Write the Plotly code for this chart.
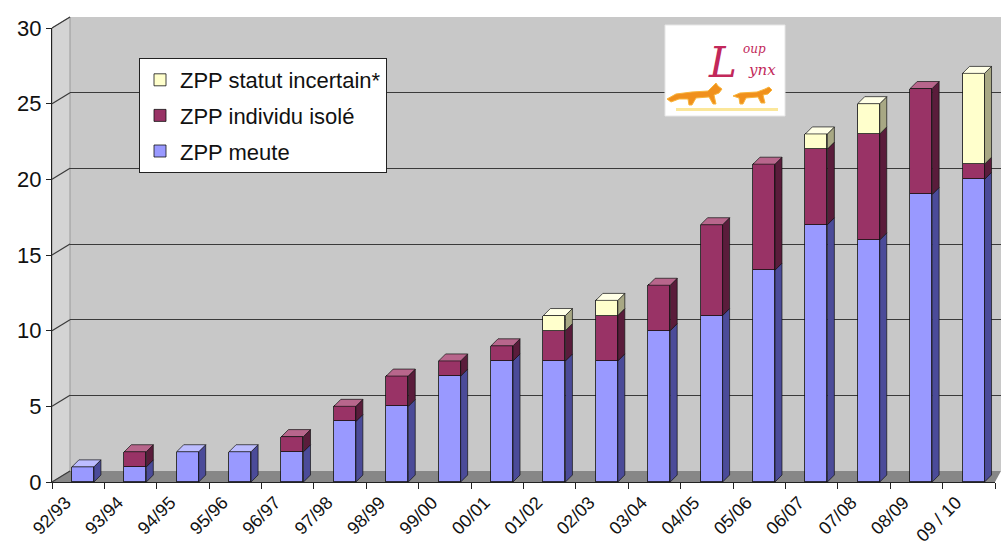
import plotly.graph_objects as go

# Seasons and number of lynx presence zones (ZPP) by status
seasons = ["92/93", "93/94", "94/95", "95/96", "96/97", "97/98", "98/99", "99/00", "00/01",
           "01/02", "02/03", "03/04", "04/05", "05/06", "06/07", "07/08", "08/09", "09 / 10"]
meute = [1, 1, 2, 2, 2, 4, 5, 7, 8, 8, 8, 10, 11, 14, 17, 16, 19, 20]
isole = [0, 1, 0, 0, 1, 1, 2, 1, 1, 2, 3, 3, 6, 7, 5, 7, 7, 1]
incertain = [0, 0, 0, 0, 0, 0, 0, 0, 0, 1, 1, 0, 0, 0, 1, 2, 0, 6]
y_ticks = [0, 5, 10, 15, 20, 25, 30]

series = [
    ("ZPP meute", meute, "#9999ff", "#4b4b99", "#bdbdff", 3),
    ("ZPP individu isolé", isole, "#993366", "#5a1c3b", "#b8668c", 2),
    ("ZPP statut incertain*", incertain, "#ffffcc", "#a8a884", "#ffffe6", 1),
]

# page geometry (pixels)
W, H = 1001, 546
ML, MR, MT, MB = 52, 0, 17, 64
PW, PH = W - ML - MR, H - MT - MB
BOTTOM = H - MB
FRONT_W = 943            # width of the front (category) axis
DEPTH_X, DEPTH_Y = 18, 11  # offset of the back wall
FRONT_TOP = 454          # height of the value axis, 0 -> 30

def fx(p):
    return (p - ML) / PW

def fy(p):
    return (BOTTOM - p) / PH

n = len(seasons)
xs = list(range(n))
BAR_OFF, BAR_W = -0.12, 0.42
px_per_cat = FRONT_W / n
px_per_unit = FRONT_TOP / 30
dx = 7 / px_per_cat
dy = 7 / px_per_unit

fig = go.Figure()

# back wall grid holder (subplot x/y)
fig.add_trace(go.Scatter(x=[], y=[], showlegend=False, hoverinfo="skip"))

for name, vals, c, _, _, rank in series:
    fig.add_trace(go.Bar(
        x=xs, y=vals, name=name, offset=BAR_OFF, width=BAR_W,
        marker=dict(color=c, line=dict(color="#111111", width=0.8)),
        xaxis="x2", yaxis="y2", legendgroup=name, legendrank=rank, hoverinfo="skip",
    ))

# side and top faces giving the bars their depth
cum = [0] * n
top_series = [None] * n
side_paths = {s[0]: ([], []) for s in series}
for name, vals, *_ in series:
    for i in range(n):
        v = vals[i]
        if v <= 0:
            continue
        b, t = cum[i], cum[i] + v
        xr = i + BAR_OFF + BAR_W
        sx, sy = side_paths[name]
        sx += [xr, xr + dx, xr + dx, xr, xr, None]
        sy += [b, b + dy, t + dy, t, b, None]
        cum[i] = t
        top_series[i] = name
for name, vals, c, side_c, top_c, _ in series:
    sx, sy = side_paths[name]
    fig.add_trace(go.Scatter(
        x=sx, y=sy, mode="lines", fill="toself", fillcolor=side_c,
        line=dict(color="#111111", width=0.7), xaxis="x2", yaxis="y2",
        showlegend=False, hoverinfo="skip"))
    tx, ty = [], []
    for i in range(n):
        if top_series[i] != name:
            continue
        xl = i + BAR_OFF
        xr = xl + BAR_W
        T = cum[i]
        tx += [xl, xl + dx, xr + dx, xr, xl, None]
        ty += [T, T + dy, T + dy, T, T, None]
    if tx:
        fig.add_trace(go.Scatter(
            x=tx, y=ty, mode="lines", fill="toself", fillcolor=top_c,
            line=dict(color="#111111", width=0.7), xaxis="x2", yaxis="y2",
            showlegend=False, hoverinfo="skip"))

shapes = []
wall_x0 = fx(ML + DEPTH_X)
wall_y0 = fy(BOTTOM - DEPTH_Y)
front_top = FRONT_TOP / PH
front_right = FRONT_W / PW
# back wall
shapes.append(dict(type="rect", xref="paper", yref="paper", x0=wall_x0, x1=1, y0=wall_y0, y1=1,
                   fillcolor="#c8c8c8", line=dict(width=0), layer="below"))
# left wall
shapes.append(dict(type="path", xref="paper", yref="paper",
                   path=f"M0,0 L0,{front_top} L{wall_x0},1 L{wall_x0},{wall_y0} Z",
                   fillcolor="#d4d4d4", line=dict(color="#9a9a9a", width=1), layer="below"))
# floor
shapes.append(dict(type="path", xref="paper", yref="paper",
                   path=f"M0,0 L{front_right},0 L1,{wall_y0} L{wall_x0},{wall_y0} Z",
                   fillcolor="#878787", line=dict(width=0), layer="below"))
# connectors from value ticks to the back wall grid
for v in y_ticks:
    y_front = v / 30 * front_top
    y_back = wall_y0 + v / 30 * (1 - wall_y0)
    shapes.append(dict(type="line", xref="paper", yref="paper", x0=0, x1=wall_x0,
                       y0=y_front, y1=y_back, line=dict(color="#3a3a3a", width=1.2)))

# logo box
lx0, lx1, ly0, ly1 = 665, 785, 25, 116
shapes.append(dict(type="rect", xref="paper", yref="paper", x0=fx(lx0), x1=fx(lx1), y0=fy(ly1), y1=fy(ly0),
                   fillcolor="white", line=dict(color="#e6e6e6", width=1)))

def poly(points):
    return "M" + " L".join(f"{fx(a):.5f},{fy(b):.5f}" for a, b in points) + " Z"

lynx1 = [(667, 99), (676, 94), (692, 92), (708, 91), (713, 86), (716, 83), (718, 86), (722, 89),
         (719, 93), (714, 95), (716, 104), (713, 104), (709, 97), (696, 98), (692, 105),
         (689, 105), (688, 99), (679, 99), (671, 102)]
lynx2 = [(733, 96), (740, 93), (757, 92), (765, 89), (769, 87), (772, 90), (768, 94), (763, 95),
         (765, 103), (761, 103), (758, 97), (746, 98), (743, 104), (740, 104), (739, 98)]
for pts in (lynx1, lynx2):
    shapes.append(dict(type="path", xref="paper", yref="paper", path=poly(pts),
                       fillcolor="#f0901c", line=dict(color="#f8b43a", width=1)))
shapes.append(dict(type="rect", xref="paper", yref="paper", x0=fx(676), x1=fx(778), y0=fy(111), y1=fy(108),
                   fillcolor="#fbe79a", line=dict(width=0)))

annotations = [
    dict(text="<i>L</i>", x=fx(722), y=fy(62), xref="paper", yref="paper", showarrow=False,
         xanchor="center", yanchor="middle",
         font=dict(family="DejaVu Serif", size=42, color="#c2285a")),
    dict(text="<i>oup</i>", x=fx(754), y=fy(49), xref="paper", yref="paper", showarrow=False,
         xanchor="center", yanchor="middle",
         font=dict(family="DejaVu Serif", size=12, color="#c2285a")),
    dict(text="<i>ynx</i>", x=fx(762), y=fy(70), xref="paper", yref="paper", showarrow=False,
         xanchor="center", yanchor="middle",
         font=dict(family="DejaVu Serif", size=15, color="#c2285a")),
]

font = "Liberation Sans, Arial, sans-serif"
fig.update_layout(
    width=W, height=H,
    margin=dict(l=ML, r=MR, t=MT, b=MB),
    paper_bgcolor="white", plot_bgcolor="rgba(0,0,0,0)",
    barmode="stack", bargap=0,
    font=dict(family=font, color="#111111"),
    shapes=shapes, annotations=annotations,
    xaxis=dict(domain=[wall_x0, 1], anchor="y", visible=False, range=[0, 1], fixedrange=True),
    yaxis=dict(domain=[wall_y0, 1], anchor="x", range=[0, 30], dtick=5, showgrid=True,
               gridcolor="#3a3a3a", gridwidth=1.2, showticklabels=False, zeroline=False,
               ticks="", showline=False),
    xaxis2=dict(domain=[0, front_right], anchor="y2", range=[-0.5, n - 0.5],
                tickvals=[i - 0.24 for i in xs], ticktext=seasons, tickangle=-45, ticks="",
                ticklabelstandoff=2, automargin=False,
                tickfont=dict(size=18, family=font, color="#111111"),
                showline=True, linecolor="#222222", linewidth=1, showgrid=False, zeroline=False,
                minor=dict(tick0=-0.5, dtick=1, ticks="outside", ticklen=6, tickcolor="#222222",
                           showgrid=False)),
    yaxis2=dict(domain=[0, front_top], anchor="x2", range=[0, 30], tickvals=y_ticks,
                ticks="outside", ticklen=5, tickcolor="#222222", showline=True, automargin=False,
                linecolor="#222222", linewidth=1, showgrid=False, zeroline=False,
                tickfont=dict(size=22, family=font, color="#111111")),
    legend=dict(x=fx(139), y=fy(58), xanchor="left", yanchor="top", bgcolor="white",
                bordercolor="#222222", borderwidth=1, traceorder="grouped",
                tracegroupgap=4, font=dict(size=22, family=font, color="#111111")),
    showlegend=True,
)

fig.write_html("out.html")
